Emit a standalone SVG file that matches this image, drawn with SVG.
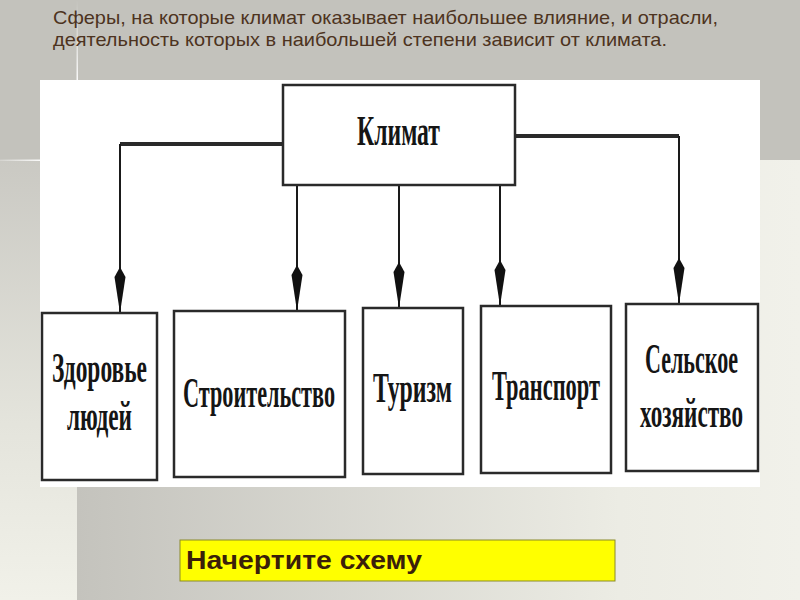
<svg xmlns="http://www.w3.org/2000/svg" width="800" height="600" viewBox="0 0 800 600">
  <defs>
    <linearGradient id="gBottom" x1="77" y1="0" x2="800" y2="0" gradientUnits="userSpaceOnUse">
      <stop offset="0" stop-color="#c4c3bd"/>
      <stop offset="0.75" stop-color="#ecece4"/>
      <stop offset="1" stop-color="#f1f1ea"/>
    </linearGradient>
    <linearGradient id="gLeft" x1="0" y1="160" x2="0" y2="600" gradientUnits="userSpaceOnUse">
      <stop offset="0" stop-color="#cac9c3"/>
      <stop offset="0.6" stop-color="#e4e4dc"/>
      <stop offset="1" stop-color="#f1f1e9"/>
    </linearGradient>
    <linearGradient id="gVline" x1="0" y1="0" x2="0" y2="80" gradientUnits="userSpaceOnUse">
      <stop offset="0" stop-color="#ffffff" stop-opacity="0"/>
      <stop offset="1" stop-color="#ffffff" stop-opacity="0.9"/>
    </linearGradient>
    <linearGradient id="gHline" x1="0" y1="0" x2="40" y2="0" gradientUnits="userSpaceOnUse">
      <stop offset="0" stop-color="#ffffff" stop-opacity="0.2"/>
      <stop offset="1" stop-color="#ffffff" stop-opacity="0.9"/>
    </linearGradient>
    <marker id="arr" markerUnits="userSpaceOnUse" viewBox="0 0 46 12" markerWidth="46" markerHeight="12" refX="46" refY="6" orient="auto">
      <path d="M0,6 L10,0.5 L46,6 L10,11.5 Z" fill="#111"/>
    </marker>
    <style>
      .title { font-family: "Liberation Sans", Arial, sans-serif; font-size: 19px; fill: #4d3320; }
      .box { fill: #ffffff; stroke: #2a2a2a; stroke-width: 2.5; }
      .lbl { font-family: "Liberation Serif", "Times New Roman", serif; font-weight: bold; font-size: 24px; fill: #151515; }
      .hline { stroke: #2a2a2a; stroke-width: 4; fill: none; }
      .vline { stroke: #1a1a1a; stroke-width: 2; fill: none; }
      .note { font-family: "Liberation Sans", Arial, sans-serif; font-weight: bold; font-size: 25px; fill: #3b1f0a; }
    </style>
  </defs>

  <!-- background -->
  <rect x="0" y="0" width="800" height="600" fill="#c3c2bc"/>
  <rect x="77" y="160" width="723" height="440" fill="url(#gBottom)"/>
  <rect x="0" y="160" width="77" height="440" fill="url(#gLeft)"/>
  <rect x="76.5" y="0" width="1.5" height="80" fill="url(#gVline)"/>
  <rect x="0" y="159.5" width="40" height="1.5" fill="url(#gHline)"/>

  <text class="title" x="53" y="24" textLength="665" lengthAdjust="spacingAndGlyphs">Сферы, на которые климат оказывает наибольшее влияние, и отрасли,</text>
  <text class="title" x="53" y="46" textLength="614" lengthAdjust="spacingAndGlyphs">деятельность которых в наибольшей степени зависит от климата.</text>

  <!-- picture panel -->
  <rect x="40" y="80" width="720" height="407" fill="#ffffff"/>

  <g id="connectors">
    <polyline class="hline" points="283,144 120,144"/>
    <polyline class="vline" points="120,144 120,313" marker-end="url(#arr)"/>
    <polyline class="hline" points="515,136 679,136"/>
    <polyline class="vline" points="679,136 679,304" marker-end="url(#arr)"/>
    <line class="vline" x1="297" y1="185" x2="297" y2="311" marker-end="url(#arr)"/>
    <line class="vline" x1="399" y1="185" x2="399" y2="308" marker-end="url(#arr)"/>
    <line class="vline" x1="500" y1="185" x2="500" y2="306" marker-end="url(#arr)"/>
  </g>

  <g id="klimat">
    <rect class="box" x="283" y="85" width="232" height="100"/>
    <text class="lbl" transform="translate(357,145) scale(1,1.75)" x="0" y="0" textLength="83" lengthAdjust="spacingAndGlyphs">Климат</text>
  </g>

  <g id="zdorovye">
    <rect class="box" x="42" y="313" width="115" height="167"/>
    <text class="lbl" transform="translate(52,382) scale(1,1.8)" x="0" y="0" textLength="95" lengthAdjust="spacingAndGlyphs">Здоровье</text>
    <text class="lbl" transform="translate(67,430) scale(1,1.8)" x="0" y="0" textLength="65" lengthAdjust="spacingAndGlyphs">людей</text>
  </g>

  <g id="stroitelstvo">
    <rect class="box" x="174" y="311" width="171" height="166"/>
    <text class="lbl" transform="translate(183,407) scale(1,1.8)" x="0" y="0" textLength="152" lengthAdjust="spacingAndGlyphs">Строительство</text>
  </g>

  <g id="turizm">
    <rect class="box" x="363" y="308" width="100" height="166"/>
    <text class="lbl" transform="translate(373,402) scale(1,1.8)" x="0" y="0" textLength="79" lengthAdjust="spacingAndGlyphs">Туризм</text>
  </g>

  <g id="transport">
    <rect class="box" x="481" y="306" width="130" height="167"/>
    <text class="lbl" transform="translate(492,400) scale(1,1.8)" x="0" y="0" textLength="108" lengthAdjust="spacingAndGlyphs">Транспорт</text>
  </g>

  <g id="selskoe">
    <rect class="box" x="626" y="304" width="132" height="167"/>
    <text class="lbl" transform="translate(645,373) scale(1,1.8)" x="0" y="0" textLength="93" lengthAdjust="spacingAndGlyphs">Сельское</text>
    <text class="lbl" transform="translate(640,427) scale(1,1.8)" x="0" y="0" textLength="103" lengthAdjust="spacingAndGlyphs">хозяйство</text>
  </g>

  <g id="note">
    <rect x="180" y="540" width="435" height="41" fill="#ffff00" stroke="#8a8a2a" stroke-width="1"/>
    <text class="note" x="186" y="569" textLength="236" lengthAdjust="spacingAndGlyphs">Начертите схему</text>
  </g>
</svg>
